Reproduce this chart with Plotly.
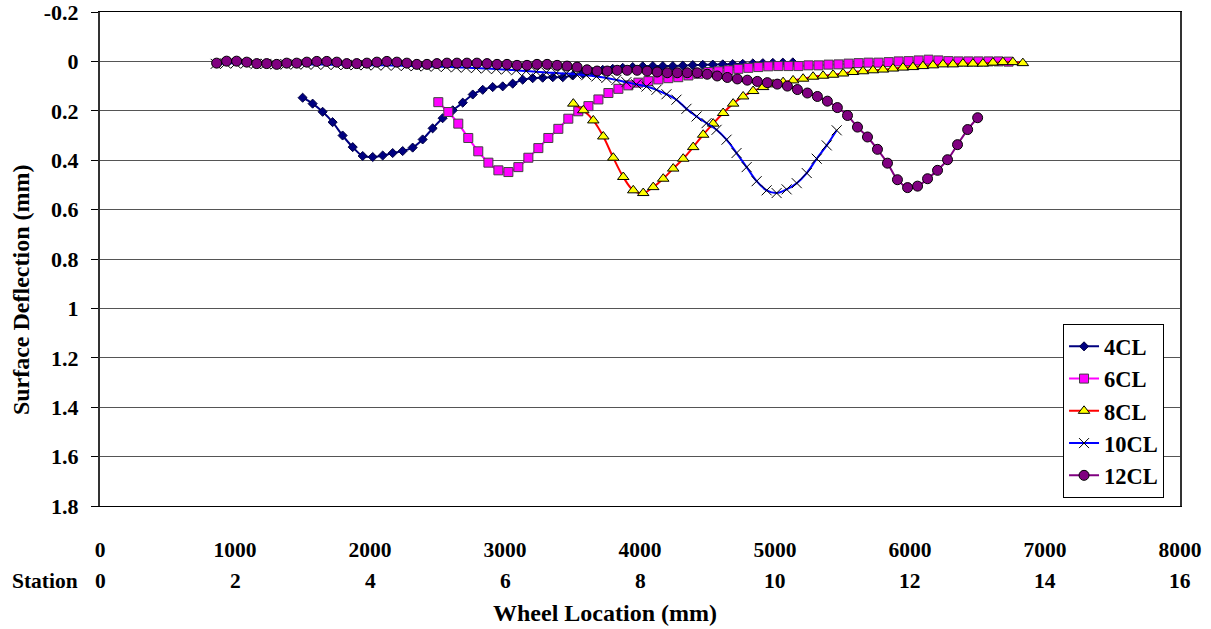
import plotly.graph_objects as go

# ---------------- data ----------------
x_4cl = [1501, 1575, 1649, 1723, 1797, 1872, 1946, 2020, 2094, 2168,
         2242, 2316, 2390, 2464, 2538, 2613, 2687, 2761, 2835, 2909,
         2983, 3057, 3131, 3205, 3279, 3354, 3428, 3502, 3576, 3650,
         3724, 3798, 3872, 3946, 4020, 4095, 4169, 4243, 4317, 4391,
         4465, 4539, 4613, 4687, 4761, 4836, 4910, 4984, 5058, 5132]
y_4cl = [0.147, 0.171, 0.204, 0.246, 0.300, 0.347, 0.383, 0.387, 0.381, 0.371,
         0.363, 0.349, 0.316, 0.271, 0.230, 0.198, 0.167, 0.134, 0.115, 0.104,
         0.101, 0.090, 0.074, 0.068, 0.066, 0.064, 0.064, 0.057, 0.050, 0.043,
         0.034, 0.030, 0.026, 0.023, 0.020, 0.019, 0.019, 0.019, 0.017, 0.015,
         0.014, 0.013, 0.012, 0.011, 0.010, 0.008, 0.007, 0.006, 0.005, 0.004]

x_6cl = [2506, 2580, 2654, 2728, 2802, 2877, 2951, 3025, 3099, 3173,
         3247, 3321, 3395, 3469, 3543, 3618, 3692, 3766, 3840, 3914,
         3988, 4062, 4136, 4210, 4284, 4359, 4433, 4507, 4581, 4655,
         4729, 4803, 4877, 4951, 5025, 5100, 5174, 5248, 5322, 5396,
         5470, 5544, 5618, 5692, 5766, 5841, 5915, 5989, 6063, 6137,
         6211, 6285, 6359, 6433, 6507, 6582, 6656, 6730]
y_6cl = [0.165, 0.205, 0.252, 0.310, 0.364, 0.410, 0.441, 0.448, 0.428, 0.390,
         0.351, 0.310, 0.273, 0.232, 0.202, 0.181, 0.154, 0.128, 0.111, 0.097,
         0.086, 0.080, 0.073, 0.068, 0.064, 0.057, 0.050, 0.043, 0.040, 0.036,
         0.030, 0.026, 0.023, 0.020, 0.019, 0.019, 0.019, 0.016, 0.016, 0.013,
         0.012, 0.009, 0.007, 0.005, 0.005, 0.003, 0.000, -0.001, -0.004, -0.007,
         -0.004, -0.001, 0.000, 0.000, 0.000, 0.000, 0.000, 0.001]

x_8cl = [3506, 3580, 3654, 3728, 3802, 3876, 3950, 4024, 4098, 4172,
         4246, 4320, 4394, 4468, 4542, 4616, 4690, 4764, 4838, 4912,
         4986, 5060, 5134, 5208, 5282, 5356, 5430, 5504, 5578, 5652,
         5726, 5800, 5874, 5948, 6022, 6096, 6170, 6244, 6318, 6392,
         6466, 6540, 6614, 6688, 6762, 6836]
y_8cl = [0.171, 0.198, 0.239, 0.304, 0.390, 0.468, 0.522, 0.533, 0.509, 0.475,
         0.434, 0.394, 0.347, 0.297, 0.252, 0.209, 0.171, 0.142, 0.120, 0.104,
         0.093, 0.084, 0.077, 0.070, 0.062, 0.058, 0.054, 0.049, 0.043, 0.040,
         0.036, 0.033, 0.029, 0.025, 0.023, 0.019, 0.016, 0.012, 0.012, 0.009,
         0.009, 0.009, 0.005, 0.003, 0.003, 0.007]

x_10cl = [857, 931, 1005, 1080, 1154, 1228, 1302, 1376, 1451, 1525,
          1599, 1673, 1747, 1822, 1896, 1970, 2044, 2118, 2193, 2267,
          2341, 2415, 2489, 2564, 2638, 2712, 2786, 2860, 2935, 3009,
          3083, 3157, 3231, 3306, 3380, 3454, 3528, 3602, 3677, 3751,
          3825, 3899, 3973, 4048, 4122, 4196, 4270, 4344, 4419, 4493,
          4567, 4641, 4715, 4790, 4864, 4938, 5012, 5086, 5161, 5235,
          5309, 5383, 5457]
y_10cl = [0.010, 0.008, 0.008, 0.008, 0.010, 0.010, 0.012, 0.012, 0.012, 0.012,
          0.013, 0.013, 0.014, 0.014, 0.015, 0.015, 0.016, 0.016, 0.017, 0.018,
          0.019, 0.020, 0.021, 0.022, 0.024, 0.025, 0.027, 0.029, 0.031, 0.033,
          0.036, 0.039, 0.042, 0.045, 0.047, 0.049, 0.052, 0.056, 0.061, 0.067,
          0.075, 0.084, 0.093, 0.102, 0.115, 0.133, 0.155, 0.192, 0.223, 0.250,
          0.277, 0.317, 0.371, 0.428, 0.485, 0.522, 0.533, 0.518, 0.493, 0.452,
          0.394, 0.340, 0.279]

x_12cl = [864, 938, 1012, 1087, 1161, 1235, 1309, 1383, 1457, 1532,
          1606, 1680, 1754, 1828, 1902, 1977, 2051, 2125, 2199, 2273,
          2347, 2422, 2496, 2570, 2644, 2718, 2792, 2867, 2941, 3015,
          3089, 3163, 3237, 3312, 3386, 3460, 3534, 3608, 3682, 3757,
          3831, 3905, 3979, 4053, 4127, 4202, 4276, 4350, 4424, 4498,
          4572, 4647, 4721, 4795, 4869, 4943, 5017, 5092, 5166, 5240,
          5314, 5388, 5462, 5537, 5611, 5685, 5759, 5833, 5907, 5982,
          6056, 6130, 6204, 6278, 6352, 6427, 6501]
y_12cl = [0.007, -0.001, -0.001, 0.003, 0.009, 0.009, 0.012,
          0.007, 0.007, 0.003, 0.000, 0.000, 0.003, 0.009, 0.009, 0.007, 0.003,
          0.000, 0.003, 0.007, 0.012, 0.012, 0.009, 0.007, 0.007, 0.007, 0.007,
          0.009, 0.012, 0.012, 0.016, 0.016, 0.012, 0.012, 0.016, 0.019, 0.023,
          0.034, 0.039, 0.039, 0.036, 0.036, 0.036, 0.039, 0.043, 0.046, 0.046,
          0.046, 0.046,
          0.052, 0.059, 0.065, 0.071, 0.076, 0.081, 0.086, 0.092, 0.100,
          0.114, 0.128, 0.142, 0.161, 0.187, 0.219, 0.266, 0.306, 0.356, 0.412,
          0.479, 0.511, 0.505, 0.475, 0.441, 0.398, 0.337, 0.276, 0.228]

x_tick_vals = [0, 1000, 2000, 3000, 4000, 5000, 6000, 7000, 8000]
x_tick_text = ["0", "1000", "2000", "3000", "4000", "5000", "6000", "7000", "8000"]
station_labels = ["0", "2", "4", "6", "8", "10", "12", "14", "16"]
y_tick_vals = [-0.2, 0, 0.2, 0.4, 0.6, 0.8, 1.0, 1.2, 1.4, 1.6, 1.8]
y_tick_text = ["-0.2", "0", "0.2", "0.4", "0.6", "0.8", "1", "1.2", "1.4", "1.6", "1.8"]

FONT = "Liberation Serif, Times New Roman, serif"
FS = 21.5


def f(size=FS):
    return dict(family=FONT, size=size, color="black", weight="bold")


fig = go.Figure()

fig.add_trace(go.Scatter(
    x=x_4cl, y=y_4cl, name="4CL", mode="lines+markers",
    line=dict(color="#000080", width=2, shape="spline"),
    marker=dict(symbol="diamond", size=7, color="#000080",
                line=dict(color="#000040", width=1))))
fig.add_trace(go.Scatter(
    x=x_6cl, y=y_6cl, name="6CL", mode="lines+markers",
    line=dict(color="#FF00FF", width=2, shape="spline"),
    marker=dict(symbol="square", size=9, color="#FF00FF",
                line=dict(color="#404040", width=1))))
fig.add_trace(go.Scatter(
    x=x_8cl, y=y_8cl, name="8CL", mode="lines+markers",
    line=dict(color="#FF0000", width=2, shape="spline"),
    marker=dict(symbol="triangle-up", size=10, color="#FFFF00",
                line=dict(color="black", width=1))))
fig.add_trace(go.Scatter(
    x=x_10cl, y=y_10cl, name="10CL", mode="lines+markers",
    line=dict(color="#0000FF", width=2, shape="spline"),
    marker=dict(symbol="x-thin", size=10, color="black",
                line=dict(color="black", width=1))))
fig.add_trace(go.Scatter(
    x=x_12cl, y=y_12cl, name="12CL", mode="lines+markers",
    line=dict(color="#800080", width=2, shape="spline"),
    marker=dict(symbol="circle", size=10, color="#800080",
                line=dict(color="black", width=1))))

annotations = []
for v, s in zip(x_tick_vals, station_labels):
    annotations.append(dict(x=v, y=0, xref="x", yref="paper", text=s,
                            showarrow=False, yanchor="middle", yshift=-75,
                            font=f()))
annotations.append(dict(x=0, y=0, xref="x", yref="paper", text="Station",
                        showarrow=False, xanchor="right", yanchor="middle",
                        yshift=-75, xshift=-20, font=f()))
annotations.append(dict(x=0.4676, y=0, xref="paper", yref="paper", text="Wheel Location (mm)",
                        showarrow=False, yanchor="middle", yshift=-107, font=f(24)))
annotations.append(dict(x=0, y=0.437, xref="paper", yref="paper",
                        text="Surface Deflection (mm)", textangle=-90,
                        showarrow=False, xanchor="center", yanchor="middle", xshift=-79,
                        font=f(24)))

fig.update_layout(
    width=1211, height=629,
    margin=dict(l=100, r=31, t=12, b=123, autoexpand=False),
    paper_bgcolor="white", plot_bgcolor="white",
    font=f(),
    showlegend=True,
    legend=dict(x=0.8917, y=0.368, xanchor="left", yanchor="top",
                bgcolor="white", bordercolor="black", borderwidth=1,
                itemwidth=30, font=f(22.5)),
    annotations=annotations,
)
fig.update_xaxes(
    range=[0, 8000], tickvals=x_tick_vals, ticktext=x_tick_text,
    ticks="", showgrid=False, zeroline=False, automargin=False,
    showline=True, linecolor="black", linewidth=1, mirror=True,
    ticklabelstandoff=24, ticklabeloverflow="allow", tickfont=f())
fig.update_yaxes(
    range=[1.8, -0.2], tickvals=y_tick_vals, ticktext=y_tick_text,
    ticks="outside", ticklen=7, tickcolor="black", automargin=False,
    showgrid=True, gridcolor="#555555", gridwidth=1, zeroline=False,
    showline=True, linecolor="#333333", linewidth=2, mirror=True,
    ticklabelstandoff=8, ticklabeloverflow="allow", tickfont=f(22))

fig.write_html("out.html")
